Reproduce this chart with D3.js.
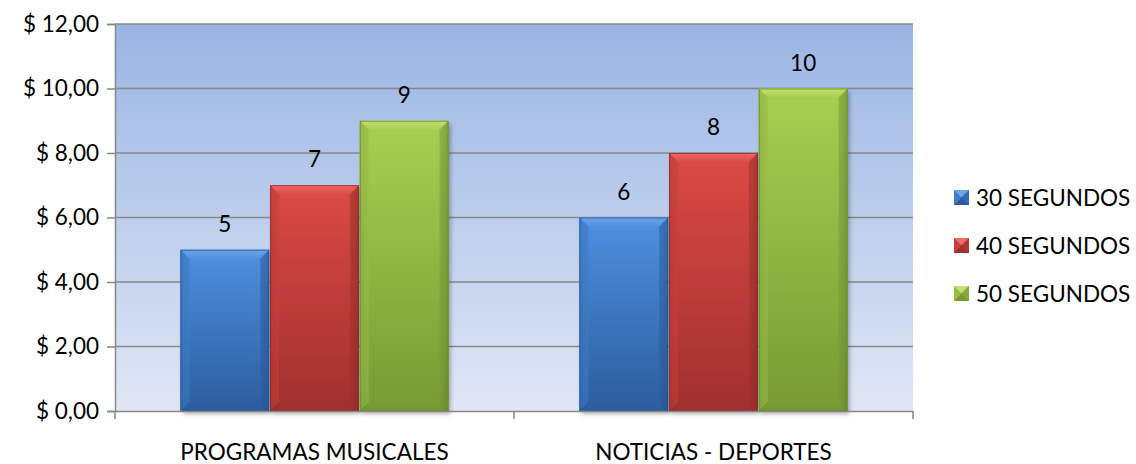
<!DOCTYPE html>
<html><head><meta charset="utf-8">
<script src="https://cdn.jsdelivr.net/npm/d3@7"></script>
<style>body{margin:0;background:#fff;} svg{display:block;font-family:Lato,"Noto Sans",sans-serif;}</style>
</head><body>
<svg id="c" width="1136" height="464"></svg>
<script>
const categories = ["PROGRAMAS MUSICALES", "NOTICIAS - DEPORTES"];
const seriesNames = ["30 SEGUNDOS", "40 SEGUNDOS", "50 SEGUNDOS"];
const s30 = [5, 6];
const s40 = [7, 8];
const s50 = [9, 10];
const yTicks = [0, 2, 4, 6, 8, 10, 12];

const seriesValues = [s30, s40, s50];
const palette = [
  {light:"#4f90df", mid:"#3e7ccb", dark:"#2c5d9e", top:"#6aa6ea", edge:"#2a5795"},
  {light:"#dc4a46", mid:"#c93f3c", dark:"#a0302e", top:"#ee6a66", edge:"#922b29"},
  {light:"#a8cf52", mid:"#98bd47", dark:"#789a33", top:"#c2e06e", edge:"#6b8a2c"}
];

const svg = d3.select("#c");
const L = 115, R = 913, T = 24, B = 411;
const FS = 22.5;
const x0 = d3.scaleBand().domain(categories).range([L, R]).paddingInner(0).paddingOuter(0);
const bwAll = x0.bandwidth();
const x1 = d3.scaleBand().domain(d3.range(3)).range([bwAll*0.164, bwAll*0.836]).paddingInner(0.01).paddingOuter(0);
const y = d3.scaleLinear().domain([0, 12]).range([B, T]);

const defs = svg.append("defs");
const bg = defs.append("linearGradient").attr("id","bg").attr("x1",0).attr("y1",0).attr("x2",0).attr("y2",1);
bg.append("stop").attr("offset","0%").attr("stop-color","#9ab5e4");
bg.append("stop").attr("offset","100%").attr("stop-color","#e0e7f5");

palette.forEach((p,i)=>{
  const g = defs.append("linearGradient").attr("id","bar"+i).attr("x1",0).attr("y1",0).attr("x2",0).attr("y2",1);
  g.append("stop").attr("offset","0%").attr("stop-color",p.light);
  g.append("stop").attr("offset","100%").attr("stop-color",p.dark);
  const h = defs.append("linearGradient").attr("id","side"+i).attr("x1",0).attr("y1",0).attr("x2",1).attr("y2",0);
  h.append("stop").attr("offset","0%").attr("stop-color","#000").attr("stop-opacity",0.12);
  h.append("stop").attr("offset","10%").attr("stop-color","#000").attr("stop-opacity",0);
  h.append("stop").attr("offset","90%").attr("stop-color","#000").attr("stop-opacity",0);
  h.append("stop").attr("offset","100%").attr("stop-color","#000").attr("stop-opacity",0.18);
  const tg = defs.append("linearGradient").attr("id","top"+i).attr("x1",0).attr("y1",0).attr("x2",0).attr("y2",1);
  tg.append("stop").attr("offset","0%").attr("stop-color",p.top);
  tg.append("stop").attr("offset","100%").attr("stop-color",p.light);
});
const f = defs.append("filter").attr("id","sh").attr("x","-10%").attr("y","-10%").attr("width","130%").attr("height","130%");
f.append("feDropShadow").attr("dx",2).attr("dy",3).attr("stdDeviation",2).attr("flood-color","#000").attr("flood-opacity",0.3);

// plot background
svg.append("rect").attr("x",L).attr("y",T).attr("width",R-L).attr("height",B-T).attr("fill","url(#bg)");

// gridlines
svg.append("g").selectAll("line").data(yTicks.filter(d=>d>0)).join("line")
  .attr("x1",L).attr("x2",R).attr("y1",d=>y(d)).attr("y2",d=>y(d))
  .attr("stroke","#878787").attr("stroke-width",1.5);

// y axis
const yAxis = d3.axisLeft(y).tickValues(yTicks).tickSize(8).tickPadding(8)
  .tickFormat(d=>"$ " + d3.format(".2f")(d).replace(".", ","));
const ya = svg.append("g").attr("transform",`translate(${L},0)`).call(yAxis);
ya.select(".domain").attr("stroke","#878787").attr("stroke-width",1.5);
ya.selectAll(".tick line").attr("stroke","#878787").attr("stroke-width",1.5);
ya.selectAll("text").attr("font-size",FS).attr("fill","#000").attr("font-family","Lato, 'Noto Sans', sans-serif");

// bars
const bw = x1.bandwidth();
const bev = 9;
categories.forEach((c,ci)=>{
  seriesValues.forEach((vals,si)=>{
    const v = vals[ci];
    const bx = x0(c) + x1(si);
    const by = y(v);
    const bh = y(0) - by;
    const g = svg.append("g");
    const p = palette[si];
    g.append("rect").attr("x",bx).attr("y",by).attr("width",bw).attr("height",bh)
      .attr("fill","url(#bar"+si+")").attr("filter","url(#sh)");
    g.append("rect").attr("x",bx).attr("y",by).attr("width",bw).attr("height",bh).attr("fill","url(#side"+si+")");
    g.append("path").attr("d",`M${bx},${by}L${bx+bw},${by}L${bx+bw-bev},${by+bev}L${bx+bev},${by+bev}Z`)
      .attr("fill","url(#top"+si+")");
    g.append("path").attr("d",`M${bx},${by}L${bx+bev},${by+bev}L${bx+bev},${by+bh-bev}L${bx},${by+bh}Z`)
      .attr("fill",p.mid).attr("opacity",0.55);
    g.append("path").attr("d",`M${bx+bw},${by}L${bx+bw-bev},${by+bev}L${bx+bw-bev},${by+bh-bev}L${bx+bw},${by+bh}Z`)
      .attr("fill",p.dark).attr("opacity",0.5);
    g.append("path").attr("d",`M${bx},${by+bh}L${bx+bev},${by+bh-bev}L${bx+bw-bev},${by+bh-bev}L${bx+bw},${by+bh}Z`)
      .attr("fill",p.dark).attr("opacity",0.45);
    g.append("rect").attr("x",bx+0.5).attr("y",by+0.5).attr("width",bw-1).attr("height",bh-1)
      .attr("fill","none").attr("stroke",p.edge).attr("stroke-width",1).attr("opacity",0.8);
    svg.append("text").attr("x",bx+bw/2).attr("y",by-18).attr("text-anchor","middle")
      .attr("font-size",FS).attr("fill","#000").text(v);
  });
});

// x axis
const xAxis = d3.axisBottom(x0).tickSize(0).tickPadding(33);
const xa = svg.append("g").attr("transform",`translate(0,${B})`).call(xAxis);
xa.select(".domain").attr("stroke","#878787").attr("stroke-width",1.5);
xa.selectAll("text").attr("font-size",FS).attr("fill","#000").attr("font-family","Lato, 'Noto Sans', sans-serif");
svg.append("g").selectAll("line").data([L, x0(categories[1]), R]).join("line")
  .attr("x1",d=>d).attr("x2",d=>d).attr("y1",B).attr("y2",B+8)
  .attr("stroke","#878787").attr("stroke-width",1.5);

// legend
const legY = [197, 245, 293];
seriesNames.forEach((n,i)=>{
  const p = palette[i];
  const lx = 954, ly = legY[i]-7, s = 15;
  const g = svg.append("g");
  g.append("rect").attr("x",lx).attr("y",ly).attr("width",s).attr("height",s).attr("fill",p.mid);
  g.append("path").attr("d",`M${lx},${ly}L${lx+s},${ly}L${lx+s/2},${ly+s/2}Z`).attr("fill",p.top);
  g.append("path").attr("d",`M${lx},${ly+s}L${lx+s},${ly+s}L${lx+s/2},${ly+s/2}Z`).attr("fill",p.dark);
  g.append("path").attr("d",`M${lx+s},${ly}L${lx+s},${ly+s}L${lx+s/2},${ly+s/2}Z`).attr("fill",p.dark).attr("opacity",0.6);
  svg.append("text").attr("x",976).attr("y",legY[i]+9).attr("font-size",FS).attr("fill","#000").text(n);
});
</script>
</body></html>
